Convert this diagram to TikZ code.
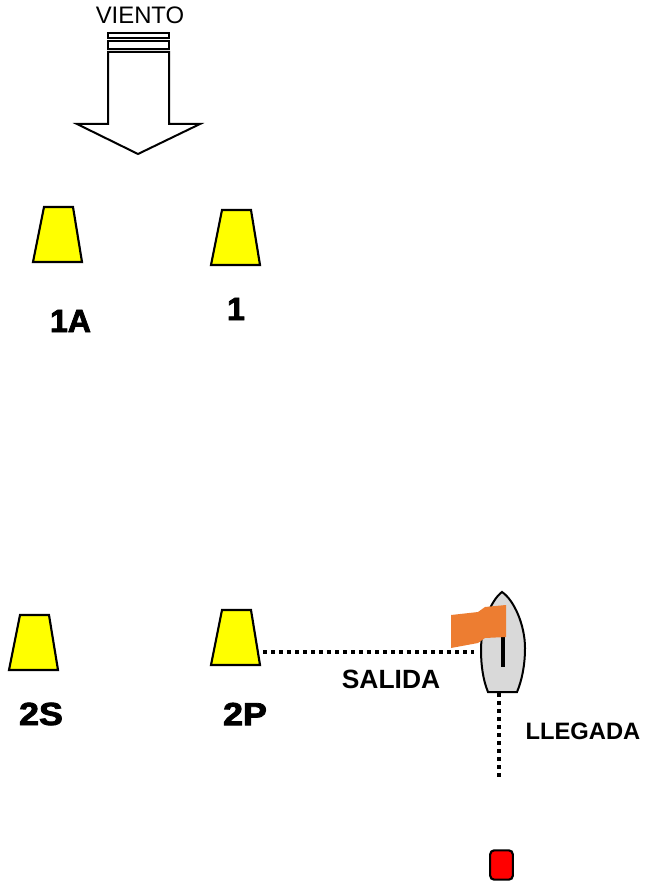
\documentclass[tikz,border=0pt]{standalone}
\usepackage{fontspec}
\setmainfont{Liberation Sans}
\newfontfamily\markfont[FakeBold=2.5]{Liberation Sans Bold}
\usetikzlibrary{positioning}
\definecolor{buoyYellow}{RGB}{255,255,0}
\definecolor{sailOrange}{RGB}{237,125,49}
\definecolor{hullGray}{RGB}{217,217,217}
\tikzset{
  buoy/.style={fill=buoyYellow, draw, line width=1.6pt, line join=miter},
  buoyLabel/.style={font={\markfont\fontsize{24}{24}\selectfont}, inner sep=0pt},
  lineLabel/.style={font={\bfseries\fontsize{19.8}{20}\selectfont}, inner sep=0pt},
  windShape/.style={fill=white, draw, line width=1.5pt, line join=miter},
  lineDots/.style={line width=3pt, dash pattern=on 3pt off 3pt}
}
\begin{document}
\begin{tikzpicture}[y=-0.75pt, x=0.75pt]
      \useasboundingbox (0,0) rectangle (645,888);

      % wind
      \node[font={\fontsize{17.9}{18}\selectfont}, inner sep=0pt] (wind) at (140,15) {VIENTO};
      \draw[windShape] (108,33) rectangle (169,38);
      \draw[windShape] (108,41) rectangle (169,49);
      \draw[windShape] (108,52) -- (108,124) -- (77,124) -- (138,154) -- (200,124) -- (169,124) -- (169,52) -- cycle;

      % buoys
      \foreach \bx/\by in {33/207, 211/210, 9/615, 211/610}
        \draw[buoy, shift={(\bx,\by)}] (0,55) -- (11,0) -- (40,0) -- (49,55) -- cycle;

      \node[buoyLabel] (labelOneA) at (70.5,321) {1A};
      \node[buoyLabel] (labelOne) at (236,309) {1};
      \node[buoyLabel, xscale=1.12] (labelTwoS) at (41,714) {2S};
      \node[buoyLabel, xscale=1.12] (labelTwoP) at (245,714) {2P};

      % boat
      \draw[fill=hullGray, line width=1.5pt] (502,592) .. controls (514,600) and (525,625) .. (525,648)
        .. controls (525,665) and (522,680) .. (517,692) -- (488,692)
        .. controls (483,680) and (481,665) .. (481,650)
        .. controls (481,625) and (491,600) .. (502,592) -- cycle;
      \draw[line width=3pt] (503,634) -- (503,667);
      \fill[sailOrange] (451,615) -- (478,612) -- (485,607) -- (506,605) -- (506,637) -- (485,638) -- (478,643) -- (451,648) -- cycle;

      % lines
      \coordinate (startLeft) at (263,652);
      \coordinate (startRight) at (474,652);
      \coordinate (finishTop) at (499,693);
      \coordinate (finishBottom) at (499,777);
      \draw[lineDots] (startLeft) -- (startRight);
      \draw[lineDots] (finishTop) -- (finishBottom);

      \node[lineLabel] (labelStart) at (391,679) {SALIDA};
      \node[lineLabel, font={\bfseries\fontsize{17.8}{18}\selectfont}] (labelFinish) at (583,731) {LLEGADA};

      % finish mark
      \node[rectangle, rounded corners=3pt, fill=red, draw, line width=1.6pt, minimum width=17pt, minimum height=22pt, inner sep=0pt] (finishMark) at (501.5,865) {};

    \end{tikzpicture}
\end{document}
